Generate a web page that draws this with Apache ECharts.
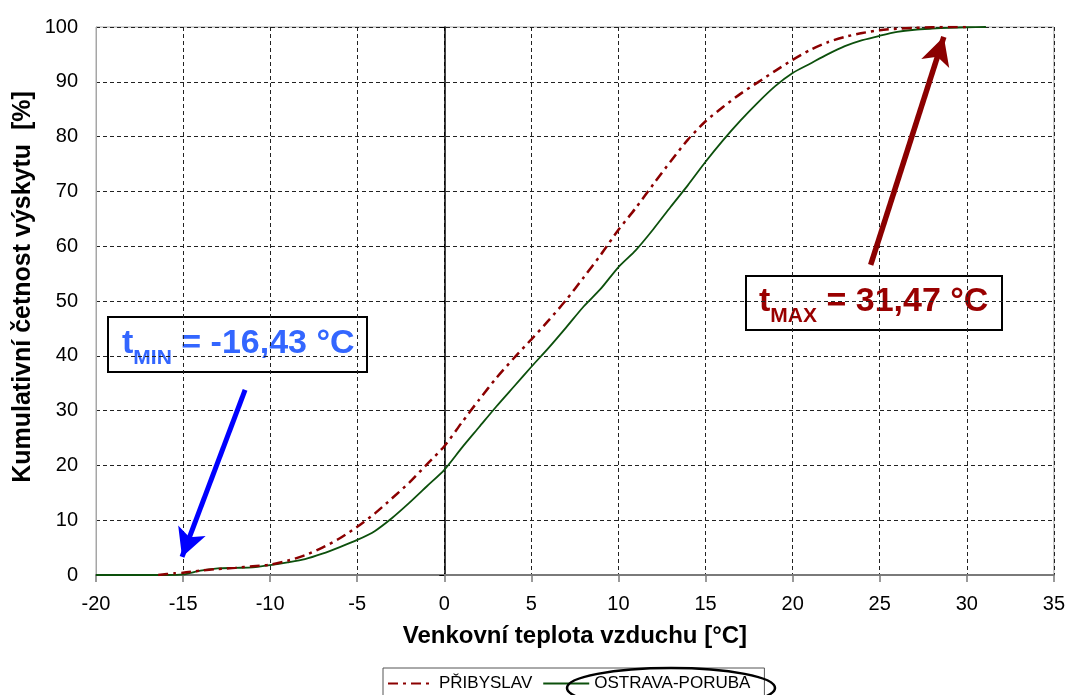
<!DOCTYPE html>
<html>
<head>
<meta charset="utf-8">
<script src="https://cdn.jsdelivr.net/npm/echarts@6/dist/echarts.min.js"></script>
<style>
  html, body { margin: 0; padding: 0; background: #fff; }
  #chart { width: 1068px; height: 695px; }
</style>
</head>
<body>
<div id="chart"></div>
<script>
// Cumulative frequency of outdoor air temperature for two weather stations
const FONT = '"Liberation Sans", Arial, sans-serif';

// PŘIBYSLAV: temperature [°C] and cumulative frequency [%]
const pribyslavTemp = [-16.43, -15.5, -15, -14, -13, -12, -11, -10, -9, -8, -7, -6, -5, -4, -3, -2, -1, 0,
  1, 2, 3, 4, 5, 6, 7, 8, 9, 10, 11, 12, 13, 14, 15, 16, 17, 18, 19, 20, 21, 22, 23, 24, 25, 26, 27, 28, 29, 30];
const pribyslavFreq = [0, 0.3, 0.4, 0.8, 1.1, 1.3, 1.6, 1.9, 2.6, 3.6, 5.0, 6.7, 8.8, 11.2, 14.0, 16.9, 20.2, 23.5,
  27.8, 32.0, 36.0, 39.6, 43.0, 46.5, 50.2, 54.3, 58.5, 63.0, 67.0, 71.3, 75.5, 79.5, 82.8, 85.4, 87.8, 89.9, 92.0, 94.0,
  95.8, 97.2, 98.2, 98.9, 99.4, 99.7, 99.85, 99.95, 100, 100];

// OSTRAVA-PORUBA: temperature [°C] and cumulative frequency [%]
const ostravaTemp = [-20, -16, -15, -14, -13, -12, -11, -10, -9, -8, -7, -6, -5, -4, -3, -2, -1, 0,
  1, 2, 3, 4, 5, 6, 7, 8, 9, 10, 11, 12, 13, 14, 15, 16, 17, 18, 19, 20, 21, 22, 23, 24, 25, 26, 27, 28, 29, 30, 31.1];
const ostravaFreq = [0, 0, 0.1, 0.8, 1.2, 1.3, 1.4, 1.8, 2.3, 2.9, 3.9, 5.1, 6.4, 8.0, 10.4, 13.2, 16.2, 19.2,
  23.2, 27.0, 30.8, 34.4, 38.0, 41.5, 45.2, 49.0, 52.3, 56.2, 59.3, 63.1, 67.2, 71.2, 75.4, 79.3, 82.9, 86.2, 89.2, 91.6,
  93.3, 95.0, 96.5, 97.6, 98.4, 99.1, 99.5, 99.7, 99.85, 99.95, 100];

const seriesNames = ['PŘIBYSLAV', 'OSTRAVA-PORUBA'];

// Annotated extremes
const tMinText = '-16,43 °C';
const tMaxText = '31,47 °C';
// arrow endpoints in data units [temperature, frequency]: [from, to]
const tMinArrow = [[-11.44, 33.8], [-15.06, 3.3]];
const tMaxArrow = [[24.48, 56.6], [28.68, 98.2]];

const xTicks = { min: -20, max: 35, step: 5 };
const yTicks = { min: 0, max: 100, step: 10 };

const zip = (a, b) => a.map((v, i) => [v, b[i]]);

const gridDash = { type: [4, 3], color: '#222', width: 1 };

const chart = echarts.init(document.getElementById('chart'), null, { renderer: 'canvas' });

function boxLabel(sub, value, color) {
  return {
    text: '{m|t}{s|' + sub + '}{m| = ' + value + '}',
    fill: color,
    rich: {
      m: { fontFamily: FONT, fontSize: 34, fontWeight: 'bold', lineHeight: 38, verticalAlign: 'top', fill: color },
      s: { fontFamily: FONT, fontSize: 21, fontWeight: 'bold', lineHeight: 21, verticalAlign: 'top', padding: [21, 0, 0, 0], fill: color }
    }
  };
}

chart.setOption({
  animation: false,
  backgroundColor: '#fff',
  textStyle: { fontFamily: FONT },
  grid: {
    left: 96, right: 14, top: 27, bottom: 120,
    show: true, borderColor: '#a6a6a6', borderWidth: 1
  },
  legend: {
    data: seriesNames,
    left: 383, top: 668,
    orient: 'horizontal',
    itemWidth: 46, itemHeight: 14, itemGap: 10,
    padding: [7, 14, 12, 4],
    borderColor: '#555', borderWidth: 1,
    backgroundColor: '#fff',
    itemStyle: { opacity: 0 },
    textStyle: { fontFamily: FONT, fontSize: 17, color: '#000' }
  },
  xAxis: {
    type: 'value',
    min: xTicks.min, max: xTicks.max, interval: xTicks.step,
    name: 'Venkovní teplota vzduchu [°C]',
    nameLocation: 'middle', nameGap: 49,
    nameTextStyle: { fontFamily: FONT, fontSize: 24, fontWeight: 'bold', color: '#000' },
    axisLine: { onZero: false, lineStyle: { color: '#7a7a7a', width: 2 } },
    axisTick: { show: true, length: 7, lineStyle: { color: '#7a7a7a', width: 1.5 } },
    axisLabel: { fontFamily: FONT, fontSize: 20, color: '#000', margin: 19 },
    splitLine: { show: true, lineStyle: gridDash }
  },
  yAxis: [
    {
      type: 'value',
      min: yTicks.min, max: yTicks.max, interval: yTicks.step,
      axisLine: { show: true, onZero: false, lineStyle: { color: '#a6a6a6', width: 1 } },
      axisTick: { show: false },
      axisLabel: { fontFamily: FONT, fontSize: 20, color: '#000', margin: 18 },
      splitLine: { show: true, lineStyle: gridDash }
    },
    {
      // vertical axis line crossing at 0 °C
      type: 'value',
      min: yTicks.min, max: yTicks.max, interval: yTicks.step,
      position: 'left',
      axisLine: { show: true, onZero: true, lineStyle: { color: '#000', width: 1.5 } },
      axisTick: { show: true, inside: false, length: 5, lineStyle: { color: '#000', width: 1 } },
      axisLabel: { show: false },
      splitLine: { show: false }
    }
  ],
  series: [
    {
      name: seriesNames[1],
      type: 'line',
      data: zip(ostravaTemp, ostravaFreq),
      showSymbol: false, symbol: 'none',
      smooth: 0.25,
      color: '#0c500c',
      lineStyle: { color: '#0c500c', width: 1.8, type: 'solid' },
      z: 3
    },
    {
      name: seriesNames[0],
      type: 'line',
      data: zip(pribyslavTemp, pribyslavFreq),
      showSymbol: false, symbol: 'none',
      smooth: 0.25,
      color: '#8b0000',
      lineStyle: { color: '#8b0000', width: 2.5, type: [10, 5, 3, 5] },
      z: 4,
      markLine: {
        silent: true,
        animation: false,
        symbol: ['none', 'arrow'],
        symbolSize: [22, 28],
        label: { show: false },
        emphasis: { disabled: true },
        data: [
          [
            { coord: tMinArrow[0], lineStyle: { color: '#0000ff', width: 5, type: 'solid' }, itemStyle: { color: '#0000ff' } },
            { coord: tMinArrow[1] }
          ],
          [
            { coord: tMaxArrow[0], lineStyle: { color: '#8b0000', width: 5.5, type: 'solid' }, itemStyle: { color: '#8b0000' } },
            { coord: tMaxArrow[1] }
          ]
        ]
      }
    }
  ],
  graphic: [
    {
      // y-axis title
      type: 'text',
      x: 23, y: 287,
      rotation: Math.PI / 2,
      style: {
        text: 'Kumulativní četnost výskytu  [%]',
        fontFamily: FONT, fontSize: 25, fontWeight: 'bold', fill: '#000',
        align: 'center', verticalAlign: 'middle'
      }
    },
    {
      // t_MIN label box
      type: 'group',
      x: 108, y: 317,
      children: [
        { type: 'rect', shape: { x: 0, y: 0, width: 259, height: 55 },
          style: { fill: '#fff', stroke: '#000', lineWidth: 2 } },
        { type: 'text', x: 14, y: 10, style: boxLabel('MIN', tMinText, '#3366ff') }
      ]
    },
    {
      // t_MAX label box
      type: 'group',
      x: 746, y: 276,
      children: [
        { type: 'rect', shape: { x: 0, y: 0, width: 256, height: 54 },
          style: { fill: '#fff', stroke: '#000', lineWidth: 2 } },
        { type: 'text', x: 13, y: 9, style: boxLabel('MAX', tMaxText, '#990000') }
      ]
    },
    {
      // highlight ring around the second legend entry
      type: 'ellipse',
      z: 100,
      shape: { cx: 671, cy: 688, rx: 104, ry: 20 },
      style: { fill: null, stroke: '#000', lineWidth: 2.5 }
    }
  ]
});
</script>
</body>
</html>
